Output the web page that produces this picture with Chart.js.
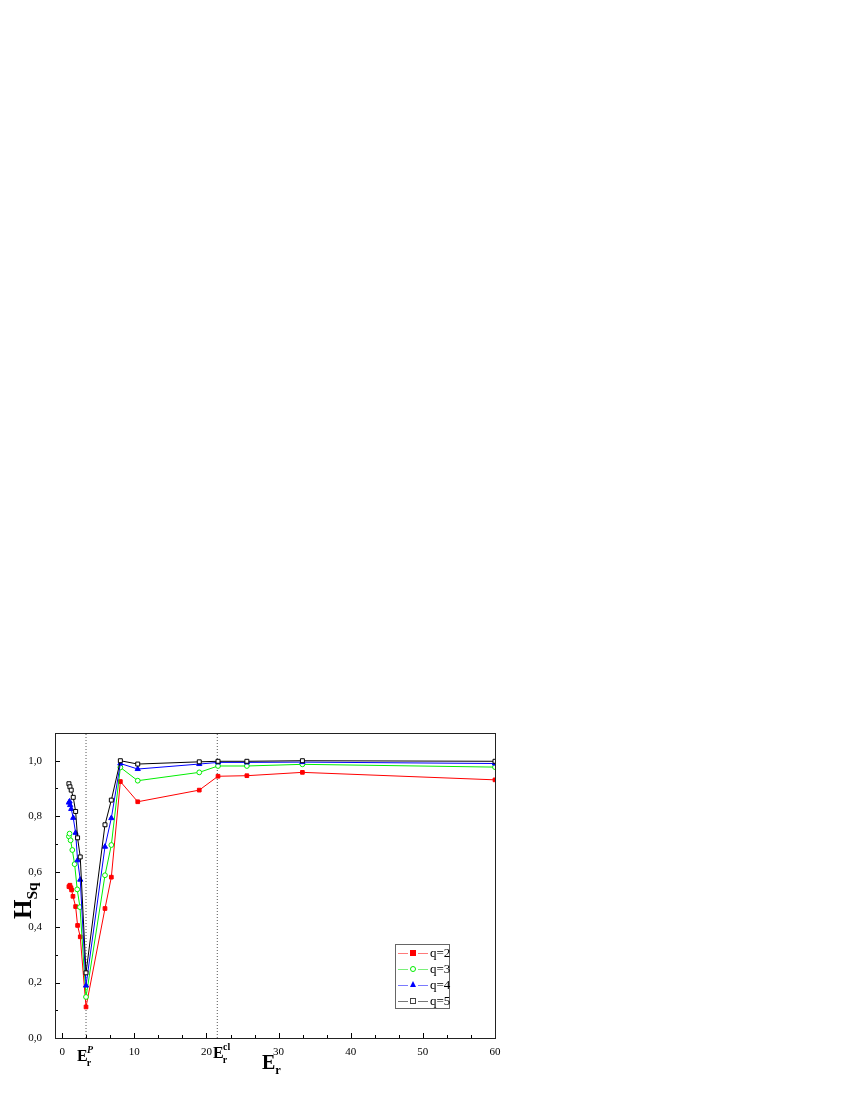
<!DOCTYPE html>
<html>
<head>
<meta charset="utf-8">
<script src="https://cdn.jsdelivr.net/npm/chart.js@4.4.0/dist/chart.umd.min.js"></script>
<style>
  html, body { margin: 0; padding: 0; background: #fff; }
  #wrap { position: relative; width: 850px; height: 1100px; }
  #c { position: absolute; left: 0; top: 0; }
  .lbl { position: absolute; font-family: "Liberation Serif", "Times New Roman", Times, serif; font-weight: bold; color: #000; line-height: 1; white-space: nowrap; }
  .sub { position: relative; font-size: 0.62em; }
  #legend { position: absolute; left: 395px; top: 944px; width: 53px; height: 63px; border: 1px solid #666; background: #fff;
            font-family: "Liberation Serif", "Times New Roman", Times, serif; font-size: 13px; color: #000; }
  .row { position: absolute; left: 0; height: 16px; width: 53px; }
  .seg { position: absolute; top: 8px; height: 0; border-top: 1px solid; }
  .txt { position: absolute; left: 34px; top: 1px; line-height: 14px; font-family: "Liberation Serif", "Times New Roman", Times, serif; }
  .mk { position: absolute; box-sizing: border-box; }
</style>
</head>
<body>
<div id="wrap">
  <canvas id="c" width="850" height="1100"></canvas>

  <div class="lbl" style="left:10px; top:919px; font-size:25px; transform-origin:0 0; transform: rotate(-90deg);">H<span class="sub" style="top:6px;">Sq</span></div>

  <div class="lbl" style="left:262px; top:1052px; font-size:20px;">E<span class="sub" style="top:5px;">r</span></div>

  <div class="lbl" style="left:77px; top:1048px; font-size:16px;">E<span class="sub" style="top:5px; margin-left:-1px;">r</span><span class="sub" style="top:-8px; font-style:italic; margin-left:-4px;">P</span></div>

  <div class="lbl" style="left:213px; top:1045px; font-size:16px;">E<span class="sub" style="top:5px; margin-left:-1px;">r</span><span class="sub" style="top:-8px; margin-left:-4px;">cl</span></div>

  <div id="legend"></div>
</div>
<script>
// ---------------- data ----------------
const seriesNames = ["q=2", "q=3", "q=4", "q=5"];

const xQ2 = [0.93, 1.07, 1.21, 1.3, 1.49, 1.86, 2.13, 2.5, 3.3, 5.93, 6.81, 8.06, 10.47, 19, 21.6, 25.6, 33.3, 60];
const yQ2 = [0.546, 0.551, 0.542, 0.534, 0.511, 0.474, 0.406, 0.365, 0.112, 0.467, 0.580, 0.925, 0.852, 0.894, 0.944, 0.946, 0.958, 0.931];

const xQ3 = [0.93, 1.02, 1.16, 1.4, 1.72, 2.08, 2.46, 3.3, 5.93, 6.81, 8.06, 10.47, 19, 21.6, 25.6, 33.3, 60];
const yQ3 = [0.727, 0.737, 0.713, 0.678, 0.627, 0.536, 0.472, 0.148, 0.587, 0.696, 0.976, 0.928, 0.958, 0.981, 0.981, 0.987, 0.977];

const xQ4 = [0.93, 1.02, 1.1, 1.25, 1.53, 1.86, 2.13, 2.5, 3.3, 5.93, 6.81, 8.06, 10.47, 19, 21.6, 25.6, 33.3, 60];
const yQ4 = [0.849, 0.853, 0.840, 0.826, 0.794, 0.740, 0.641, 0.571, 0.189, 0.690, 0.793, 0.990, 0.970, 0.988, 0.994, 0.994, 0.995, 0.990];

const xQ5 = [0.93, 1.07, 1.25, 1.53, 1.86, 2.13, 2.5, 3.3, 5.93, 6.81, 8.06, 10.47, 19, 21.6, 25.6, 33.3, 60];
const yQ5 = [0.917, 0.906, 0.894, 0.868, 0.817, 0.722, 0.653, 0.235, 0.769, 0.858, 1.000, 0.988, 0.996, 0.998, 0.998, 1.000, 0.998];

const markerLines = [3.3, 21.5];   // E_r^P and E_r^cl
const xTicks = [0, 10, 20, 30, 40, 50, 60];
const yTicks = [0, 0.2, 0.4, 0.6, 0.8, 1.0];

// ---------------- styles ----------------
const SERIF = "'Liberation Serif', 'Times New Roman', Times, serif";
const colors = ["#ff0000", "#00ee00", "#0000ff", "#000000"];
const styles = ["rect", "circle", "triangle", "rect"];
const fills  = ["#ff0000", "#ffffff", "#0000ff", "#ffffff"];
const radii  = [2.6, 2.4, 3.0, 2.8];

function pts(xs, ys) { return xs.map((x, i) => ({ x: x, y: ys[i] })); }
const allX = [xQ2, xQ3, xQ4, xQ5];
const allY = [yQ2, yQ3, yQ4, yQ5];

const datasets = [];
markerLines.forEach(v => {
  datasets.push({
    label: "", data: [{ x: v, y: 0 }, { x: v, y: 1.1 }],
    borderColor: "#555", borderWidth: 1, borderDash: [1, 2], pointRadius: 0, order: 10
  });
});
seriesNames.forEach((n, i) => {
  datasets.push({
    label: n, data: pts(allX[i], allY[i]),
    borderColor: colors[i], borderWidth: 1,
    pointStyle: styles[i], pointRadius: radii[i], pointBackgroundColor: fills[i],
    pointBorderColor: colors[i], pointBorderWidth: 1, tension: 0, order: 4 - i
  });
});

const frameTicks = {
  id: "frameTicks",
  afterDatasetsDraw(chart) {
    const { ctx, chartArea: a, scales: { x, y } } = chart;
    ctx.save();
    ctx.strokeStyle = "#000";
    ctx.lineWidth = 1;
    ctx.beginPath();
    for (let i = 0; i < xTicks.length; i++) {
      const px = Math.round(x.getPixelForValue(xTicks[i])) + 0.5;
      ctx.moveTo(px, a.bottom); ctx.lineTo(px, a.bottom - 5);
      if (i < xTicks.length - 1) {
        const step = (xTicks[i + 1] - xTicks[i]) / 3;
        for (let k = 1; k < 3; k++) {
          const pm = Math.round(x.getPixelForValue(xTicks[i] + k * step)) + 0.5;
          ctx.moveTo(pm, a.bottom); ctx.lineTo(pm, a.bottom - 3);
        }
      }
    }
    for (let i = 0; i < yTicks.length; i++) {
      const py = Math.round(y.getPixelForValue(yTicks[i])) + 0.5;
      ctx.moveTo(a.left, py); ctx.lineTo(a.left + 5, py);
      const pm = Math.round(y.getPixelForValue(yTicks[i] + 0.1)) + 0.5;
      ctx.moveTo(a.left, pm); ctx.lineTo(a.left + 3, pm);
    }
    ctx.stroke();
    ctx.strokeStyle = "#222";
    ctx.strokeRect(Math.round(a.left) + 0.5, Math.round(a.top) + 0.5,
                   Math.round(a.right - a.left), Math.round(a.bottom - a.top));
    ctx.restore();
  }
};

new Chart(document.getElementById("c"), {
  type: "line",
  data: { datasets: datasets },
  options: {
    responsive: false, animation: false, devicePixelRatio: 1,
    layout: { padding: { left: 0, right: 355, top: 733, bottom: 44 } },
    plugins: { legend: { display: false }, tooltip: { enabled: false } },
    elements: { line: { fill: false } },
    scales: {
      x: {
        type: "linear", min: -1, max: 60,
        afterBuildTicks: s => { s.ticks = xTicks.map(v => ({ value: v })); },
        afterFit: s => { s.height = 18; },
        grid: { display: false }, border: { display: false },
        ticks: { color: "#000", padding: 0, maxRotation: 0, autoSkip: false,
                 font: { family: SERIF, size: 11 }, callback: v => String(v) }
      },
      y: {
        type: "linear", min: 0, max: 1.1,
        afterBuildTicks: s => { s.ticks = yTicks.map(v => ({ value: v })); },
        afterFit: s => { s.width = 55; },
        grid: { display: false }, border: { display: false },
        ticks: { color: "#000", padding: 5, autoSkip: false,
                 font: { family: SERIF, size: 11 },
                 callback: v => v.toFixed(1).replace(".", ",") }
      }
    }
  },
  plugins: [frameTicks]
});

// ---------------- legend (HTML text) ----------------
const lg = document.getElementById("legend");
const lineCols = ["#ff7a7a", "#7af07a", "#7a7aff", "#777777"];
seriesNames.forEach((n, i) => {
  const r = document.createElement("div");
  r.className = "row";
  r.style.top = (i * 16) + "px";
  let mk;
  if (i === 0) mk = '<div class="mk" style="left:14px;top:5px;width:6px;height:6px;background:#f00"></div>';
  if (i === 1) mk = '<div class="mk" style="left:14px;top:5px;width:6px;height:6px;border:1px solid #0e0;border-radius:50%;background:#fff"></div>';
  if (i === 2) mk = '<div class="mk" style="left:14px;top:4px;width:0;height:0;border-left:3.5px solid transparent;border-right:3.5px solid transparent;border-bottom:6px solid #00f"></div>';
  if (i === 3) mk = '<div class="mk" style="left:14px;top:5px;width:6px;height:6px;border:1px solid #444;background:#fff"></div>';
  r.innerHTML =
    '<div class="seg" style="left:2px;width:10px;border-color:' + lineCols[i] + '"></div>' +
    '<div class="seg" style="left:22px;width:10px;border-color:' + lineCols[i] + '"></div>' +
    mk + '<div class="txt">' + n + '</div>';
  lg.appendChild(r);
});
</script>
</body>
</html>
